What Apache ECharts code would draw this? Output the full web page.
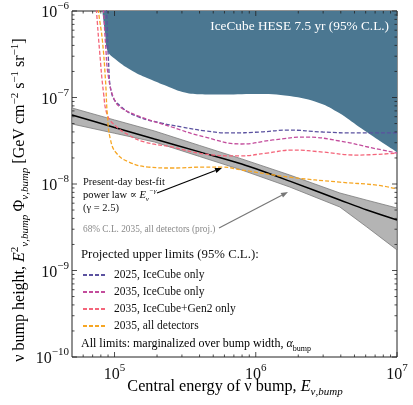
<!DOCTYPE html>
<html>
<head>
<meta charset="utf-8">
<script src="https://cdn.jsdelivr.net/npm/echarts@6/dist/echarts.min.js"></script>
<style>
  html, body { margin: 0; padding: 0; background: #fff; }
  #chart { width: 413px; height: 405px; }
</style>
</head>
<body>
<div id="chart"></div>
<script>
// axis ranges / ticks
const xRange = [5e4, 1e7];
const yRange = [1e-10, 1e-6];
const xMajorTicks = [1e5, 1e6, 1e7];
const yMajorTicks = [1e-10, 1e-9, 1e-8, 1e-7, 1e-6];

// IceCube HESE 7.5 yr excluded region (lower boundary)
const heseE = [7.9e4, 8.2e4, 8.6e4, 8.9e4, 1.03e5, 1.34e5, 1.77e5, 2.34e5, 3.03e5, 4.0e5, 5.56e5, 1.0e6, 1.74e6, 2.84e6, 3.9e6, 5.4e6, 7.4e6, 1.0e7];
const heseLimit = [2e-6, 1.0e-6, 5.3e-7, 3.5e-7, 2.72e-7, 2.03e-7, 1.64e-7, 1.36e-7, 1.16e-7, 1.09e-7, 1.08e-7, 1.1e-7, 1.04e-7, 8.6e-8, 6.6e-8, 4.56e-8, 3.23e-8, 2.34e-8];

// present-day best-fit power law and 68% C.L. band (2035, all detectors)
const fitE = [5e4, 1e5, 1.92e5, 4e5, 7.96e5, 1.74e6, 3.94e6, 6.12e6, 1e7];
const fitBest = [6.28e-8, 4.5e-8, 3.31e-8, 2.35e-8, 1.70e-8, 1.08e-8, 6.54e-9, 5.0e-9, 3.84e-9];
const bandHigh = [7.57e-8, 5.5e-8, 4.1e-8, 2.79e-8, 1.95e-8, 1.27e-8, 7.87e-9, 6.5e-9, 5.28e-9];
const bandLow = [4.94e-8, 3.86e-8, 3.06e-8, 2.08e-8, 1.45e-8, 9.23e-9, 5.42e-9, 3.18e-9, 1.73e-9];

// projected upper limits (95% C.L.)
const ic2025E = [8.4e4, 8.77e4, 9.06e4, 9.52e4, 1.12e5, 1.48e5, 2.15e5, 2.99e5, 4.42e5, 6.5e5, 1.07e6, 1.71e6, 2.99e6, 5.1e6, 1e7];
const ic2025 = [2e-6, 1e-6, 2.72e-7, 1.13e-7, 7.76e-8, 5.96e-8, 5.07e-8, 4.56e-8, 4.1e-8, 3.89e-8, 3.99e-8, 4.2e-8, 3.99e-8, 3.89e-8, 3.89e-8];
const ic2035E = [8.1e4, 8.36e4, 8.63e4, 9.06e4, 1e5, 1.12e5, 1.48e5, 2.54e5, 4.35e5, 7.96e5, 1.32e6, 2.26e6, 3.94e6, 6.76e6, 1e7];
const ic2035 = [2e-6, 1e-6, 4.27e-7, 1.73e-7, 9.35e-8, 7.57e-8, 6.1e-8, 4.56e-8, 3.49e-8, 2.9e-8, 3.23e-8, 3.49e-8, 3.14e-8, 2.6e-8, 2.28e-8];
const gen2E = [7.2e4, 7.45e4, 7.83e4, 8.36e4, 8.9e4, 1e5, 1.26e5, 1.63e5, 2.54e5, 4.35e5, 7.7e5, 1.2e6, 1.83e6, 2.99e6, 5.2e6, 1e7];
const gen2 = [2e-6, 1e-6, 3.54e-7, 1.13e-7, 6.28e-8, 4.81e-8, 3.68e-8, 3.06e-8, 2.68e-8, 2.22e-8, 2.11e-8, 2.28e-8, 2.47e-8, 2.34e-8, 2.16e-8, 2.28e-8];
const allDetE = [7.45e4, 7.7e4, 8.2e4, 8.63e4, 8.9e4, 9.37e4, 1.03e5, 1.26e5, 1.74e5, 2.54e5, 4.35e5, 5.74e5, 7.96e5, 1.74e6, 3.94e6, 7.2e6, 1e7];
const allDet = [2e-6, 1e-6, 4.62e-7, 1.59e-7, 6.28e-8, 3.23e-8, 2.28e-8, 1.8e-8, 1.57e-8, 1.53e-8, 1.57e-8, 1.57e-8, 1.45e-8, 1.2e-8, 1.05e-8, 9.7e-9, 8.75e-9];

const SERIF = "'Liberation Serif', 'DejaVu Serif', serif";
const pair = (xs, ys) => xs.map((x, i) => [x, ys[i]]);

// tick marks (major + minor) on all four sides
const minorMult = [2, 3, 4, 5, 6, 7, 8, 9];
const tickData = [];
for (let d = 4; d <= 6; d++) {
  minorMult.forEach(m => {
    const v = m * Math.pow(10, d);
    if (v > xRange[0] && v < xRange[1]) tickData.push([v, 1e-8, 0, 0]);
  });
}
xMajorTicks.forEach(v => tickData.push([v, 1e-8, 0, 1]));
for (let d = -10; d <= -7; d++) {
  minorMult.forEach(m => tickData.push([1e5, m * Math.pow(10, d), 1, 0]));
}
yMajorTicks.forEach(v => tickData.push([1e5, v, 1, 1]));

function tickLabel(v) {
  const l = Math.log10(v);
  if (Math.abs(l - Math.round(l)) > 1e-6) return '';
  const e = Math.round(l);
  return '{b|10}{s|' + (e < 0 ? '\u2212' + (-e) : e) + '}';
}
const tickRich = {
  b: { fontFamily: SERIF, fontSize: 16, color: '#111', lineHeight: 20, verticalAlign: 'bottom' },
  s: { fontFamily: SERIF, fontSize: 11, color: '#111', lineHeight: 20, verticalAlign: 'top' }
};

const chart = echarts.init(document.getElementById('chart'));

function arrow(x1, y1, x2, y2, color) {
  const a = Math.atan2(y2 - y1, x2 - x1);
  const L = 7, W = 2.6;
  const bx = x2 - L * Math.cos(a), by = y2 - L * Math.sin(a);
  return [
    { type: 'line', shape: { x1: x1, y1: y1, x2: bx, y2: by }, style: { stroke: color, lineWidth: 1.2 }, z: 100 },
    { type: 'polygon', shape: { points: [[x2, y2], [bx - W * Math.sin(a), by + W * Math.cos(a)], [bx + W * Math.sin(a), by - W * Math.cos(a)]] }, style: { fill: color }, z: 100 }
  ];
}

const dashed = (name, xs, ys, color) => ({
  name: name,
  type: 'line',
  data: pair(xs, ys),
  symbol: 'none',
  smooth: 0.45,
  lineStyle: { color: color, width: 1.3, type: [4, 2] },
  itemStyle: { color: color },
  z: 5
});

const rich = (size, subSize) => ({
  n: { fontFamily: SERIF, fontSize: size, color: '#111', lineHeight: size + 5, verticalAlign: 'middle' },
  i: { fontFamily: SERIF, fontSize: size, fontStyle: 'italic', color: '#111', lineHeight: size + 5, verticalAlign: 'middle' },
  sub: { fontFamily: SERIF, fontSize: subSize, fontStyle: 'italic', color: '#111', lineHeight: subSize + 3, verticalAlign: 'bottom' },
  subr: { fontFamily: SERIF, fontSize: subSize, color: '#111', lineHeight: subSize + 3, verticalAlign: 'bottom' },
  sup: { fontFamily: SERIF, fontSize: subSize, color: '#111', lineHeight: subSize + 3, verticalAlign: 'top' },
  supi: { fontFamily: SERIF, fontSize: subSize, fontStyle: 'italic', color: '#111', lineHeight: subSize + 3, verticalAlign: 'top' }
});

chart.setOption({
  animation: false,
  backgroundColor: '#fff',
  grid: { left: 72, right: 16, top: 11, bottom: 48, show: true, borderColor: '#222', borderWidth: 1, backgroundColor: 'transparent' },
  xAxis: {
    type: 'log', logBase: 10, min: xRange[0], max: xRange[1],
    axisLine: { show: false }, axisTick: { show: false }, splitLine: { show: false },
    axisLabel: { formatter: tickLabel, rich: tickRich, margin: 6, showMinLabel: false }
  },
  yAxis: {
    type: 'log', logBase: 10, min: yRange[0], max: yRange[1],
    axisLine: { show: false }, axisTick: { show: false }, splitLine: { show: false },
    axisLabel: { formatter: tickLabel, rich: tickRich, margin: 3 }
  },
  legend: {
    orient: 'vertical', left: 82, top: 269, padding: 0,
    itemWidth: 22, itemHeight: 11, itemGap: 5,
    itemStyle: { opacity: 0 },
    data: ['2025, IceCube only', '2035, IceCube only', '2035, IceCube+Gen2 only', '2035, all detectors'],
    textStyle: { fontFamily: SERIF, fontSize: 11.5, lineHeight: 11, color: '#111', padding: [0, 0, 0, 4] }
  },
  series: [
    {
      name: 'IceCube HESE 7.5 yr',
      type: 'line',
      data: pair(heseE, heseLimit),
      symbol: 'none',
      smooth: 0.4,
      lineStyle: { width: 0 },
      areaStyle: { origin: 'end', color: '#4b7791', opacity: 1 },
      z: 1
    },
    {
      name: 'band',
      type: 'custom',
      data: fitE.map((e, i) => [e, bandLow[i], bandHigh[i]]),
      encode: { x: 0, y: [1, 2] },
      renderItem: function (params, api) {
        if (params.dataIndex !== 0) return null;
        const up = fitE.map((e, i) => api.coord([e, bandHigh[i]]));
        const lo = fitE.map((e, i) => api.coord([e, bandLow[i]])).reverse();
        return {
          type: 'polygon',
          shape: { points: up.concat(lo) },
          style: { fill: '#b4b4b4', stroke: '#7a7a7a', lineWidth: 0.8 }
        };
      },
      silent: true,
      z: 2
    },
    {
      name: 'best fit',
      type: 'line',
      data: pair(fitE, fitBest),
      symbol: 'none',
      smooth: 0.3,
      lineStyle: { color: '#000', width: 1.5 },
      z: 3
    },
    dashed('2025, IceCube only', ic2025E, ic2025, '#5b52a0'),
    dashed('2035, IceCube only', ic2035E, ic2035, '#c34c9c'),
    dashed('2035, IceCube+Gen2 only', gen2E, gen2, '#f4657a'),
    dashed('2035, all detectors', allDetE, allDet, '#f6a623'),
    {
      name: 'ticks',
      type: 'custom',
      data: tickData,
      encode: { x: 0, y: 1 },
      silent: true,
      renderItem: function (params, api) {
        const v = api.value(0), w = api.value(1), kind = api.value(2), major = api.value(3);
        const len = major ? 5 : 2.5;
        let a, b;
        if (kind === 0) {
          a = api.coord([v, yRange[0]]); b = api.coord([v, yRange[1]]);
          return { type: 'group', children: [
            { type: 'line', shape: { x1: a[0], y1: a[1], x2: a[0], y2: a[1] - len }, style: { stroke: '#222', lineWidth: 0.8 } },
            { type: 'line', shape: { x1: b[0], y1: b[1], x2: b[0], y2: b[1] + len }, style: { stroke: '#222', lineWidth: 0.8 } }
          ] };
        }
        a = api.coord([xRange[0], w]); b = api.coord([xRange[1], w]);
        return { type: 'group', children: [
          { type: 'line', shape: { x1: a[0], y1: a[1], x2: a[0] + len, y2: a[1] }, style: { stroke: '#222', lineWidth: 0.8 } },
          { type: 'line', shape: { x1: b[0], y1: b[1], x2: b[0] - len, y2: b[1] }, style: { stroke: '#222', lineWidth: 0.8 } }
        ] };
      },
      z: 10
    }
  ],
  graphic: [
    {
      type: 'text', x: 389, y: 27, z: 100,
      style: { text: 'IceCube HESE 7.5 yr (95% C.L.)', fill: '#fff', font: '13.3px ' + SERIF, align: 'right', verticalAlign: 'middle' }
    },
    { type: 'text', x: 83, y: 182, z: 100, style: { text: 'Present-day best-fit', fill: '#111', font: '10.5px ' + SERIF, verticalAlign: 'middle' } },
    {
      type: 'text', x: 83, y: 195, z: 100,
      style: { text: '{n|power law \u221d }{i|E}{sub|\u03bd}{supi|\u2212\u03b3}', verticalAlign: 'middle', rich: rich(10.5, 7) }
    },
    { type: 'text', x: 83, y: 208, z: 100, style: { text: '(\u03b3 = 2.5)', fill: '#111', font: '10.5px ' + SERIF, verticalAlign: 'middle' } },
    { type: 'text', x: 83, y: 230, z: 100, style: { text: '68% C.L. 2035, all detectors (proj.)', fill: '#8a8a8a', font: '9.3px ' + SERIF, verticalAlign: 'middle' } },
    ...arrow(157, 193, 222, 168, '#000'),
    ...arrow(219, 228, 288, 192, '#777'),
    { type: 'text', x: 81, y: 255, z: 100, style: { text: 'Projected upper limits (95% C.L.):', fill: '#111', font: '12.8px ' + SERIF, verticalAlign: 'middle' } },
    {
      type: 'text', x: 81, y: 344, z: 100,
      style: { text: '{n|All limits: marginalized over bump width, }{i|\u03b1}{subr|bump}', verticalAlign: 'middle', rich: rich(12, 8) }
    },
    {
      type: 'text', x: 235, y: 387, z: 100,
      style: { text: '{n|Central energy of \u03bd bump, }{i|E}{sub|\u03bd,bump}', align: 'center', verticalAlign: 'middle', rich: rich(16.2, 11) }
    },
    {
      type: 'text', x: 20, y: 200, rotation: Math.PI / 2, z: 100,
      style: {
        text: '{n|\u03bd bump height, }{i|E}{sup|2}{sub|\u03bd,bump}{n|\u2009\u03a6}{sub|\u03bd,bump}{n| [GeV cm}{sup|\u22122}{n| s}{sup|\u22121}{n| sr}{sup|\u22121}{n|]}',
        align: 'center', verticalAlign: 'middle', rich: rich(16, 11)
      }
    }
  ]
});
</script>
</body>
</html>
